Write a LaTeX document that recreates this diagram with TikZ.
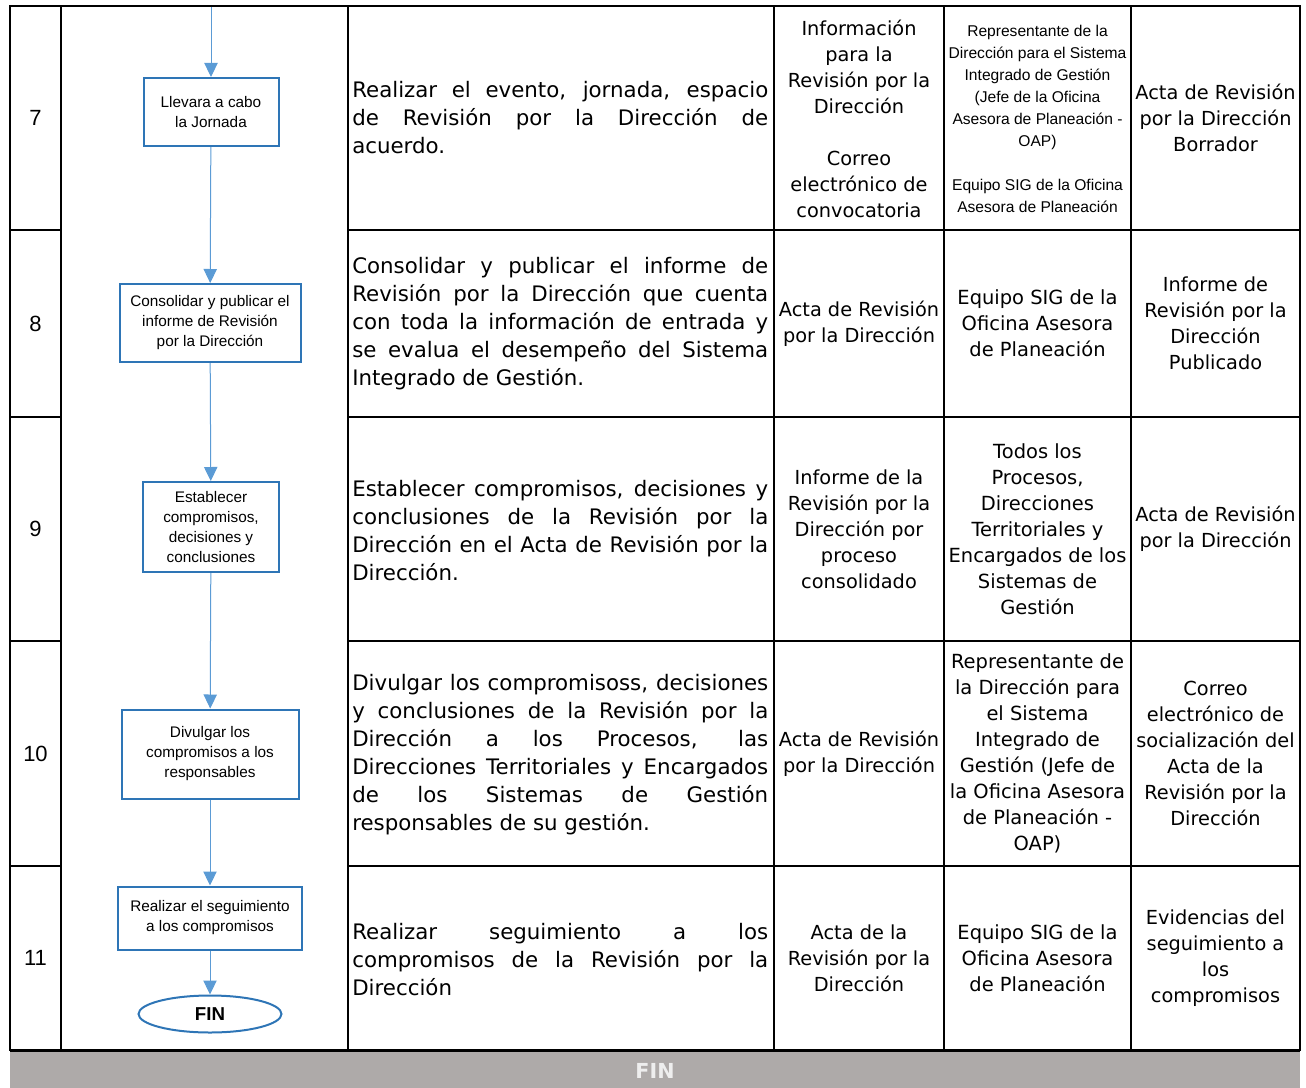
\documentclass[tikz,border=0pt]{standalone}
\usepackage{fontspec}
\setmainfont{DejaVu Sans}
\newfontfamily\arialfont{Liberation Sans}
\usetikzlibrary{arrows.meta,shapes.geometric}
\definecolor{flowline}{HTML}{5B9BD5}
\definecolor{flowedge}{HTML}{2E75B6}
\definecolor{barfill}{HTML}{AEAAA9}
\definecolor{bartext}{HTML}{EEEEEE}
\tolerance=10000
\hyphenpenalty=10000

\begin{document}
\begin{tikzpicture}[
		x=0.75pt,y=-0.75pt,
		tableline/.style={line width=1.5pt,line cap=rect},
		stepbox/.style={draw=flowedge,line width=1.5pt,inner sep=0pt,align=center,
			font=\arialfont\fontsize{11.5}{15}\selectfont},
		endbox/.style={ellipse,draw=flowedge,line width=1.5pt,inner sep=0pt,
			minimum width=107.25pt,minimum height=27.75pt,
			font=\arialfont\bfseries\fontsize{14}{16}\selectfont},
		flow/.style={draw=flowline,line width=0.75pt,-{Triangle[width=10pt,length=10.5pt]}},
		rownum/.style={inner sep=0pt,font=\arialfont\fontsize{16.5}{18}\selectfont},
		act/.style={anchor=west,inner sep=0pt,text width=312pt,align=justify,
			font=\fontsize{16}{21}\selectfont},
		cell/.style={inner sep=0pt,align=center,font=\fontsize{14.5}{19.5}\selectfont},
		who/.style={inner sep=0pt,align=center,font=\fontsize{14.6}{19.5}\selectfont},
		whosmall/.style={inner sep=0pt,align=center,font=\arialfont\fontsize{11.7}{16.5}\selectfont}
		]
		\useasboundingbox (0,0) rectangle (1306,1088);
		
		\fill[barfill] (10,1051) rectangle (1300,1088);
		\foreach \x in {10,61,348,774,944,1131,1300}
		\draw[tableline] (\x,6) -- (\x,1050);
		\draw[tableline] (10,6) -- (1300,6);
		\foreach \y in {230,417,641,866} {
			\draw[tableline] (10,\y) -- (61,\y);
			\draw[tableline] (348,\y) -- (1300,\y);
		}
		\draw[line width=2.25pt] (10,1050) -- (1300,1050);
		\node[inner sep=0pt,text=bartext,font=\bfseries\fontsize{15.5}{18}\selectfont] (finbar) at (655,1071) {FIN};
		
		\node[rownum] (num7) at (35.5,118) {7};
		\node[rownum] (num8) at (35.5,323.5) {8};
		\node[rownum] (num9) at (35.5,529) {9};
		\node[rownum] (num10) at (35.5,753.5) {10};
		\node[rownum] (num11) at (35.5,958) {11};
		
		\coordinate (start) at (211,7);
		\node[stepbox,minimum width=101.25pt,minimum height=51pt] (box7) at (211,112) {Llevara a cabo\\la Jornada};
		\node[stepbox,minimum width=135.75pt,minimum height=58.5pt] (box8) at (210,323) {Consolidar y publicar el\\informe de Revisión\\por la Dirección};
		\node[stepbox,minimum width=102pt,minimum height=67.5pt] (box9) at (211,527) {Establecer\\compromisos,\\decisiones y\\conclusiones};
		\node[stepbox,minimum width=132.75pt,minimum height=66.75pt] (box10) at (210,754) {Divulgar los\\compromisos a los\\responsables};
		\node[stepbox,minimum width=138pt,minimum height=47.25pt] (box11) at (210,918) {Realizar el seguimiento\\a los compromisos};
		\node[endbox] (fin) at (210,1014) {FIN};
		
		\draw[flow] (start) -- (box7);
		\draw[flow] (box7) -- (box8);
		\draw[flow] (box8) -- (box9);
		\draw[flow] (box9) -- (box10);
		\draw[flow] (box10) -- (box11);
		\draw[flow] (box11) -- (fin);
		
		\node[act] (act7) at (352,118) {Realizar el evento, jornada, espacio\linebreak de Revisión por la Dirección de\linebreak acuerdo.};
		\node[cell] (inp7) at (859,119) {Información\\para la\\Revisión por la\\Dirección\\[19.5pt]Correo\\electrónico de\\convocatoria};
		\node[whosmall] (resp7) at (1037.5,119) {Representante de la\\Dirección para el Sistema\\Integrado de Gestión\\(Jefe de la Oficina\\Asesora de Planeación -\\OAP)\\[16.5pt]Equipo SIG de la Oficina\\Asesora de Planeación};
		\node[cell] (out7) at (1215.5,118) {Acta de Revisión\\por la Dirección\\Borrador};
		
		\node[act] (act8) at (352,323.5) {Consolidar y publicar el informe de\linebreak Revisión por la Dirección que cuenta\linebreak con toda la información de entrada y\linebreak se evalua el desempeño del Sistema\linebreak Integrado de Gestión.};
		\node[cell] (inp8) at (859,323.5) {Acta de Revisión\\por la Dirección};
		\node[who] (resp8) at (1037.5,323.5) {Equipo SIG de la\\Oficina Asesora\\de Planeación};
		\node[cell] (out8) at (1215.5,323.5) {Informe de\\Revisión por la\\Dirección\\Publicado};
		
		\node[act] (act9) at (352,531) {Establecer compromisos, decisiones y\linebreak conclusiones de la Revisión por la\linebreak Dirección en el Acta de Revisión por la\linebreak Dirección.};
		\node[cell] (inp9) at (859,529) {Informe de la\\Revisión por la\\Dirección por\\proceso\\consolidado};
		\node[who] (resp9) at (1037.5,529) {Todos los\\Procesos,\\Direcciones\\Territoriales y\\Encargados de los\\Sistemas de\\Gestión};
		\node[cell] (out9) at (1215.5,529) {Acta de Revisión\\por la Dirección};
		
		\node[act] (act10) at (352,755) {Divulgar los compromisoss, decisiones\linebreak y conclusiones de la Revisión por la\linebreak Dirección a los Procesos, las\linebreak Direcciones Territoriales y Encargados\linebreak de los Sistemas de Gestión\linebreak responsables de su gestión.};
		\node[cell] (inp10) at (859,753.5) {Acta de Revisión\\por la Dirección};
		\node[who] (resp10) at (1037.5,753.5) {Representante de\\la Dirección para\\el Sistema\\Integrado de\\Gestión (Jefe de\\la Oficina Asesora\\de Planeación -\\OAP)};
		\node[cell] (out10) at (1215.5,753.5) {Correo\\electrónico de\\socialización del\\Acta de la\\Revisión por la\\Dirección};
		
		\node[act] (act11) at (352,960) {Realizar seguimiento a los\linebreak compromisos de la Revisión por la\linebreak Dirección};
		\node[cell] (inp11) at (859,958) {Acta de la\\Revisión por la\\Dirección};
		\node[who] (resp11) at (1037.5,958) {Equipo SIG de la\\Oficina Asesora\\de Planeación};
		\node[cell] (out11) at (1215.5,958) {Evidencias del\\seguimiento a\\los\\compromisos};
	\end{tikzpicture}
\end{document}
